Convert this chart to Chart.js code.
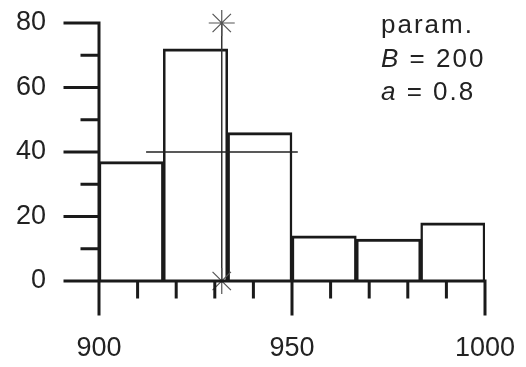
<!DOCTYPE html>
<html>
<head>
<meta charset="utf-8">
<script src="https://cdn.jsdelivr.net/npm/chart.js@4/dist/chart.umd.min.js"></script>
<style>
  body { margin: 0; background: #fff; }
</style>
</head>
<body>
<canvas id="histChart" width="526" height="367"></canvas>
<script>
// histogram data, 6 bins between 900 and 1000
const binCenters = [908.33, 925, 941.67, 958.33, 975, 991.67];
const binCounts = [37, 72, 46, 14, 13, 18];

// overlay: mean marker (vertical) and spread (horizontal)
const markerX = [931.8, 931.8];
const markerY = [0, 80];
const spreadX = [912.2, 951.5];
const spreadY = [40, 40];

// axis ticks
const xMajorTicks = [900, 950, 1000];
const xMinorTicks = [910, 920, 930, 940, 960, 970, 980, 990];
const yMajorTicks = [0, 20, 40, 60, 80];
const yMinorTicks = [10, 30, 50, 70];

// parameter box text
const paramTitle = 'param.';
const paramB = 200;
const paramA = 0.8;

const ink = '#1a1a1a';
const fontFamily = '"Liberation Sans", Arial, Helvetica, sans-serif';

const axesPlugin = {
    id: 'histAxes',
    afterDatasetsDraw(chart) {
        const { ctx, scales: { x, y } } = chart;
        const left = x.getPixelForValue(900);
        const right = x.getPixelForValue(1000);
        const bottom = y.getPixelForValue(0);
        const top = y.getPixelForValue(80);
        ctx.save();
        ctx.strokeStyle = ink;
        ctx.lineWidth = 3;
        ctx.lineCap = 'square';
        ctx.beginPath();
        ctx.moveTo(left, top);
        ctx.lineTo(left, bottom);
        ctx.lineTo(right, bottom);
        yMajorTicks.forEach(v => {
            const py = y.getPixelForValue(v);
            ctx.moveTo(left - 34, py);
            ctx.lineTo(left, py);
        });
        yMinorTicks.forEach(v => {
            const py = y.getPixelForValue(v);
            ctx.moveTo(left - 17, py);
            ctx.lineTo(left, py);
        });
        xMajorTicks.forEach(v => {
            const px = x.getPixelForValue(v);
            ctx.moveTo(px, bottom);
            ctx.lineTo(px, bottom + 33);
        });
        xMinorTicks.forEach(v => {
            const px = x.getPixelForValue(v);
            ctx.moveTo(px, bottom);
            ctx.lineTo(px, bottom + 16);
        });
        ctx.stroke();

        // parameter text
        ctx.fillStyle = '#222';
        ctx.letterSpacing = '2px';
        ctx.textBaseline = 'alphabetic';
        const tx = 381;
        const drawPair = (sym, rest, by) => {
            ctx.font = 'italic 26px ' + fontFamily;
            ctx.fillText(sym, tx, by);
            const w = ctx.measureText(sym).width;
            ctx.font = '26px ' + fontFamily;
            ctx.fillText(rest, tx + w, by);
        };
        ctx.font = '26px ' + fontFamily;
        ctx.fillText(paramTitle, tx, 33);
        drawPair('B', ' = ' + paramB, 67);
        drawPair('a', ' = ' + paramA, 100);
        ctx.restore();
    }
};

const ctx = document.getElementById('histChart').getContext('2d');
new Chart(ctx, {
    type: 'bar',
    data: {
        datasets: [{
            type: 'line',
            data: spreadX.map((v, i) => ({ x: v, y: spreadY[i] })),
            borderColor: '#222',
            borderWidth: 1.5,
            pointRadius: 0,
            order: 1
        }, {
            type: 'line',
            data: markerX.map((v, i) => ({ x: v, y: markerY[i] })),
            borderColor: '#333',
            borderWidth: 1.5,
            pointStyle: 'star',
            pointRadius: 13,
            pointBorderColor: '#555',
            pointBorderWidth: 1.2,
            clip: false,
            order: 2
        }, {
            data: binCenters.map((v, i) => ({ x: v, y: binCounts[i] })),
            backgroundColor: '#fff',
            borderColor: ink,
            borderWidth: { top: 3, left: 2.5, right: 2.5, bottom: 0 },
            borderSkipped: false,
            barPercentage: 1,
            categoryPercentage: 1,
            order: 3
        }]
    },
    options: {
        responsive: false,
        animation: false,
        layout: { padding: { top: 23, right: 41, bottom: 0, left: 0 } },
        plugins: { legend: { display: false }, tooltip: { enabled: false } },
        scales: {
            x: {
                type: 'linear',
                offset: false,
                min: 900,
                max: 1000,
                grid: { drawOnChartArea: false, tickLength: 51, tickColor: 'rgba(0,0,0,0)' },
                border: { display: false },
                ticks: {
                    stepSize: 50,
                    padding: 0,
                    color: '#222',
                    font: { family: fontFamily, size: 27 },
                    callback: v => String(v)
                },
                afterFit(scale) { scale.height = 86; }
            },
            y: {
                min: 0,
                max: 80,
                grid: { drawOnChartArea: false, tickLength: 53, tickColor: 'rgba(0,0,0,0)' },
                border: { display: false },
                ticks: {
                    stepSize: 20,
                    padding: 0,
                    color: '#222',
                    font: { family: fontFamily, size: 27 }
                },
                afterFit(scale) { scale.width = 99; }
            }
        }
    },
    plugins: [axesPlugin]
});
</script>
</body>
</html>
